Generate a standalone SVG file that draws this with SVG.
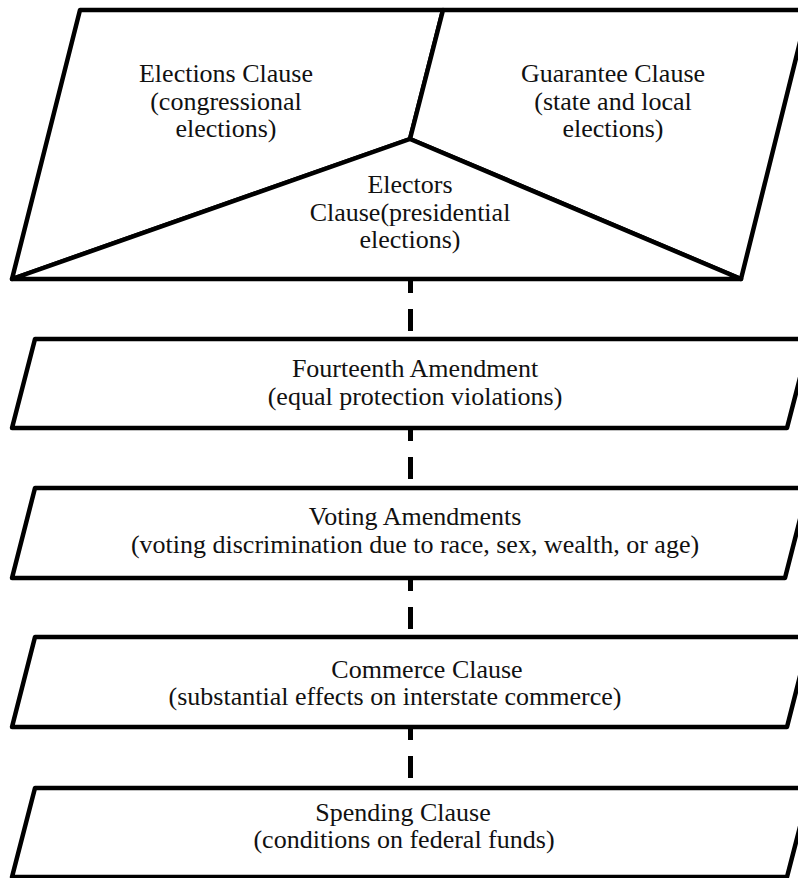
<svg xmlns="http://www.w3.org/2000/svg" width="798" height="878" viewBox="0 0 798 878">
<style>
.shape{fill:#fff;stroke:#000;stroke-width:4.5;stroke-linejoin:round}
.conn{stroke:#000;stroke-width:5;fill:none;stroke-dasharray:22 16;stroke-dashoffset:9}
text{font-family:"Liberation Serif","Times New Roman",serif;font-size:26px;fill:#111;text-anchor:middle}
</style>
<rect width="798" height="878" fill="#fff"/>
<g id="connectors">
<line class="conn" x1="410.5" y1="280" x2="410.5" y2="339"/>
<line class="conn" x1="410.5" y1="428" x2="410.5" y2="488"/>
<line class="conn" x1="410.5" y1="578" x2="410.5" y2="637"/>
<line class="conn" x1="410.5" y1="727" x2="410.5" y2="788"/>
</g>
<g id="elections-clause">
<polygon class="shape" points="80,10 443,10 410,139 12,279"/>
<text x="226" y="82">Elections Clause</text>
<text x="226" y="110">(congressional</text>
<text x="226" y="137">elections)</text>
</g>
<g id="guarantee-clause">
<polygon class="shape" points="443,10 808,10 741,279 410,139"/>
<text x="613" y="82">Guarantee Clause</text>
<text x="613" y="110">(state and local</text>
<text x="613" y="137">elections)</text>
</g>
<g id="electors-clause">
<polygon class="shape" points="12,279 410,139 741,279"/>
<text x="410" y="193">Electors</text>
<text x="410" y="221">Clause(presidential</text>
<text x="410" y="248">elections)</text>
</g>
<g id="fourteenth-amendment">
<polygon class="shape" points="35,339 810,339 787,428 12,428"/>
<text x="415" y="377">Fourteenth Amendment</text>
<text x="415" y="405">(equal protection violations)</text>
</g>
<g id="voting-amendments">
<polygon class="shape" points="35,488 808,488 785,578 12,578"/>
<text x="415" y="525">Voting Amendments</text>
<text x="415" y="553">(voting discrimination due to race, sex, wealth, or age)</text>
</g>
<g id="commerce-clause">
<polygon class="shape" points="35,637 810,637 787,727 12,727"/>
<text x="427" y="678">Commerce Clause</text>
<text x="395" y="705">(substantial effects on interstate commerce)</text>
</g>
<g id="spending-clause">
<polygon class="shape" points="35,788 810,788 787,877 12,877"/>
<text x="403" y="821">Spending Clause</text>
<text x="404" y="848">(conditions on federal funds)</text>
</g>
</svg>
